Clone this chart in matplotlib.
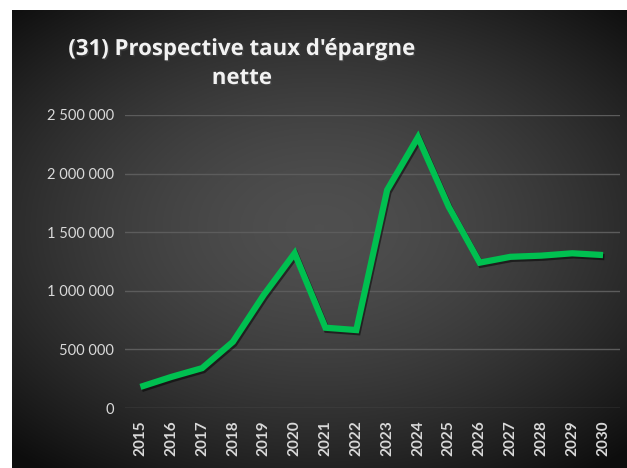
import numpy as np
import matplotlib
matplotlib.use('Agg')
import matplotlib.pyplot as plt
import matplotlib.patheffects as pe

# Data
years = [2015, 2016, 2017, 2018, 2019, 2020, 2021, 2022,
         2023, 2024, 2025, 2026, 2027, 2028, 2029, 2030]
savings = [180000, 265000, 340000, 565000, 965000, 1320000, 685000, 665000,
           1860000, 2310000, 1715000, 1240000, 1290000, 1300000, 1320000, 1305000]
y_ticks = [0, 500000, 1000000, 1500000, 2000000, 2500000]
y_labels = ['0', '500 000', '1 000 000', '1 500 000', '2 000 000', '2 500 000']
title = "(31) Prospective taux d'épargne\nnette"

W, H = 627, 468
fig = plt.figure(figsize=(W / 100, H / 100), dpi=100, facecolor='white')

# Dark radial-gradient background panel
bg = fig.add_axes([12 / W, 0, (W - 12) / W, (H - 10) / H])
gx, gy = np.meshgrid(np.linspace(-1, 1, 400), np.linspace(-1, 1, 300))
r = np.sqrt((gx * 0.95) ** 2 + ((gy + 0.05) * 1.05) ** 2)
shade = 0.31 - 0.15 * np.clip(r, 0, 1.4) ** 1.6
bg.imshow(np.dstack([shade] * 3), aspect='auto', extent=[0, 1, 0, 1])
bg.set_axis_off()

# Plot area
ax = fig.add_axes([125 / W, 60 / H, (620 - 125) / W, (408 - 115) / H])
ax.set_facecolor('none')
ax.plot(years, savings, color='#00c050', linewidth=4.5, solid_joinstyle='miter',
        solid_capstyle='butt',
        path_effects=[pe.SimpleLineShadow(offset=(1, -1.5), shadow_color='black', alpha=0.5),
                      pe.Normal()])
ax.set_xlim(2014.5, 2030.55)
ax.set_ylim(0, 2500000)
ax.set_xticks(years)
ax.set_xticklabels([str(y) for y in years], rotation=90, fontsize=11,
                   fontweight='bold', color='#d9d9d9', family='Lato')
ax.set_yticks(y_ticks)
ax.set_yticklabels(y_labels, fontsize=10.5, color='#d9d9d9', family='Lato')
ax.tick_params(length=0, pad=8)
ax.tick_params(axis='x', pad=9)
ax.grid(axis='y', color='#5c5c5c', linewidth=1)
ax.set_axisbelow(True)
for s in ax.spines.values():
    s.set_visible(False)

fig.text(242 / W, 1 - 64 / H, title, ha='center', va='center', fontsize=16,
         fontweight='bold', color='#f2f2f2', family='Open Sans', linespacing=1.5,
         path_effects=[pe.withSimplePatchShadow(offset=(1, -1), alpha=0.6)])

fig.savefig('out.png', dpi=100, facecolor='white')
